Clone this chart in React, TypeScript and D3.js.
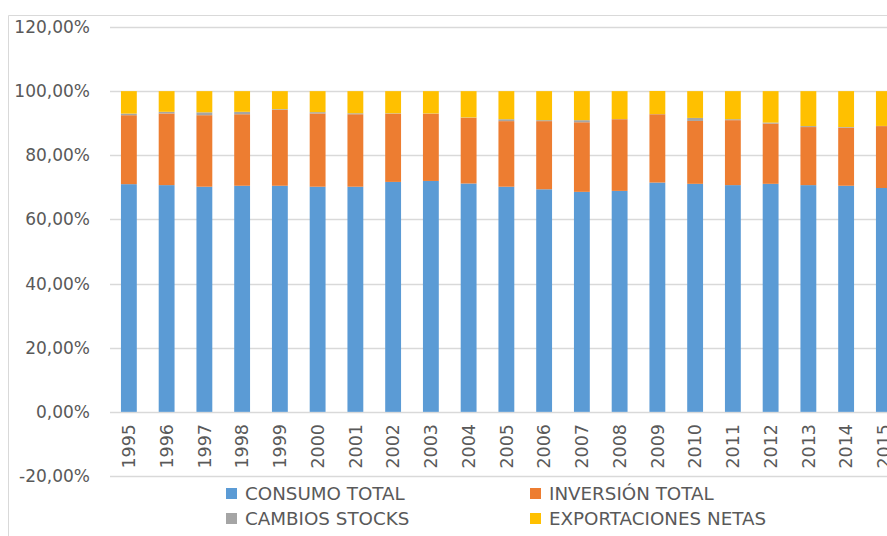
import { useEffect, useRef } from 'react'
import * as d3 from 'd3'

const years = ['1995', '1996', '1997', '1998', '1999', '2000', '2001', '2002', '2003', '2004', '2005',
  '2006', '2007', '2008', '2009', '2010', '2011', '2012', '2013', '2014', '2015']
const consumo = [71.0, 70.7, 70.2, 70.5, 70.5, 70.2, 70.2, 71.7, 72.0, 71.2, 70.2,
  69.4, 68.6, 68.9, 71.5, 71.1, 70.7, 71.1, 70.7, 70.5, 69.8]
const inversion = [21.5, 22.35, 22.3, 22.3, 23.7, 22.85, 22.6, 21.3, 21.0, 20.5, 20.45,
  21.25, 21.7, 22.35, 21.3, 19.6, 20.25, 18.8, 18.1, 18.1, 19.3]
const stocks = [0.5, 0.5, 0.9, 0.75, 0.2, 0.4, 0.3, 0.1, 0.05, 0.1, 0.6,
  0.3, 0.65, 0.05, 0.05, 0.95, 0.3, 0.3, 0.3, 0.2, 0.05]
const exportaciones = [7.0, 6.45, 6.6, 6.45, 5.6, 6.55, 6.9, 6.9, 6.95, 8.2, 8.75,
  9.05, 9.05, 8.7, 7.2, 8.35, 8.75, 9.8, 10.9, 11.2, 10.85]
const seriesNames = ['CONSUMO TOTAL', 'INVERSIÓN TOTAL', 'CAMBIOS STOCKS', 'EXPORTACIONES NETAS']
const colors = ['#5B9BD5', '#ED7D31', '#A5A5A5', '#FFC000']
const yTicks = [-20, 0, 20, 40, 60, 80, 100, 120]

const App = () => {
  const svgRef = useRef<SVGSVGElement>(null)

  useEffect(() => {
    if (!svgRef.current) return
    const width = 887
    const height = 536
    const font = "'DejaVu Sans', Verdana, sans-serif"
    const textColor = '#595959'

    const svg = d3.select(svgRef.current)
    svg.selectAll('*').remove()
    svg.attr('width', width).attr('height', height)

    // chart area border (cropped on right and bottom)
    svg.append('path')
      .attr('d', `M8.5,${height} V15.5 H${width}`)
      .style('fill', 'none')
      .style('stroke', '#D9D9D9')
      .style('stroke-width', '1px')

    const x = d3.scaleBand().domain(years).range([110, 110 + 37.75 * years.length]).paddingInner(0.58).paddingOuter(0.29)
    const y = d3.scaleLinear().domain([-20, 120]).range([476, 27])

    svg.append('g')
      .selectAll('line')
      .data(yTicks)
      .enter().append('line')
      .attr('x1', 110)
      .attr('x2', width)
      .attr('y1', d => Math.round(y(d)) + 0.5)
      .attr('y2', d => Math.round(y(d)) + 0.5)
      .style('stroke', '#D9D9D9')
      .style('stroke-width', '1.3px')

    svg.append('g')
      .selectAll('text')
      .data(yTicks)
      .enter().append('text')
      .attr('x', 90)
      .attr('y', d => y(d))
      .attr('dy', '0.35em')
      .style('text-anchor', 'end')
      .style('font-family', font)
      .style('font-size', '17px')
      .style('fill', textColor)
      .text(d => d.toFixed(2).replace('.', ',') + '%')

    const table = years.map((yr, i) => ({
      year: yr,
      c: consumo[i],
      i: inversion[i],
      s: stocks[i],
      e: exportaciones[i],
    }))
    const stack = d3.stack<typeof table[number]>().keys(['c', 'i', 's', 'e'])
    const layers = stack(table)

    svg.append('g')
      .selectAll('g')
      .data(layers)
      .enter().append('g')
      .style('fill', (_, k) => colors[k])
      .selectAll('rect')
      .data(d => d)
      .enter().append('rect')
      .attr('x', d => x(d.data.year)!)
      .attr('width', x.bandwidth())
      .attr('y', d => y(d[1]))
      .attr('height', d => Math.max(0, y(d[0]) - y(d[1])))

    svg.append('g')
      .selectAll('text')
      .data(years)
      .enter().append('text')
      .attr('transform', d => `translate(${x(d)! + x.bandwidth() / 2},424) rotate(-90)`)
      .attr('dy', '0.36em')
      .style('text-anchor', 'end')
      .style('font-family', font)
      .style('font-size', '17.5px')
      .style('fill', textColor)
      .text(d => d)

    const legendPos = [[226, 493], [530, 493], [226, 518], [530, 518]]
    const legend = svg.append('g')
      .selectAll('g')
      .data(seriesNames)
      .enter().append('g')
      .attr('transform', (_, k) => `translate(${legendPos[k][0]},${legendPos[k][1]})`)
    legend.append('rect')
      .attr('x', 0)
      .attr('y', -5)
      .attr('width', 11)
      .attr('height', 11)
      .style('fill', (_, k) => colors[k])
    legend.append('text')
      .attr('x', 19)
      .attr('dy', '0.36em')
      .style('font-family', font)
      .style('font-size', '18.3px')
      .style('fill', textColor)
      .text(d => d)
  }, [])

  return (
    <div style={{ position: 'fixed', left: 0, top: 0, width: 887, height: 536, background: '#fff' }}>
      <svg ref={svgRef} style={{ display: 'block' }}></svg>
    </div>
  )
}

export default App
